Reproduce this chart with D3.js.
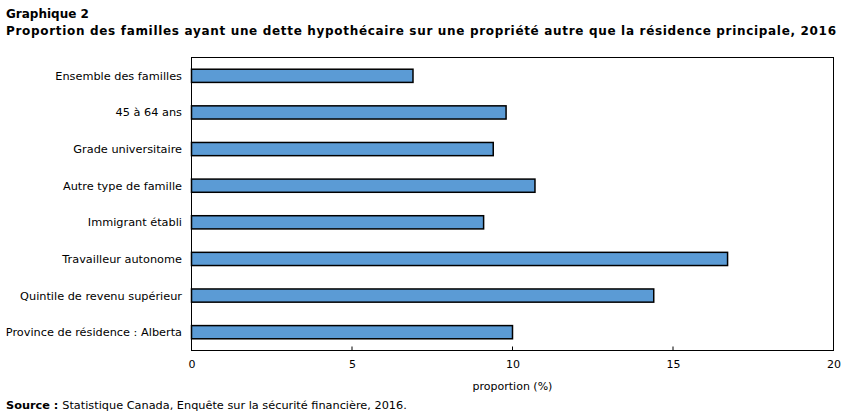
<!DOCTYPE html>
<html>
<head>
<meta charset="utf-8">
<script src="https://cdn.jsdelivr.net/npm/d3@7"></script>
<style>
  body { margin: 0; background: #fff; }
  text { font-family: "DejaVu Sans", Verdana, sans-serif; fill: #000; }
</style>
</head>
<body>
<script>
// chart values
var categories = [
    "Ensemble des familles",
    "45 à 64 ans",
    "Grade universitaire",
    "Autre type de famille",
    "Immigrant établi",
    "Travailleur autonome",
    "Quintile de revenu supérieur",
    "Province de résidence : Alberta"
];
var values = [6.9, 9.8, 9.4, 10.7, 9.1, 16.7, 14.4, 10.0];
var tickValues = [0, 5, 10, 15, 20];

var w = 851, h = 417;
var plotL = 191.5, plotR = 833.5, plotT = 57.5, plotB = 350.5;

var svg = d3.select("body").append("svg")
    .attr("width", w)
    .attr("height", h);

// titles
svg.append("text")
    .attr("x", 6).attr("y", 18)
    .attr("font-size", "12px").attr("font-weight", "bold")
    .text("Graphique  2");
svg.append("text")
    .attr("x", 6).attr("y", 35)
    .attr("font-size", "12px").attr("font-weight", "bold")
    .attr("textLength", 830)
    .text("Proportion  des familles  ayant une  dette  hypothécaire  sur  une  propriété  autre  que  la  résidence  principale,  2016");

var x = d3.scaleLinear().domain([0, 20]).range([plotL, plotR]);
var y = d3.scaleBand().domain(categories).range([plotT, plotB]).paddingInner(0.64).paddingOuter(0.32);

// bars
svg.selectAll("rect.bar")
    .data(values)
    .enter()
    .append("rect")
    .attr("class", "bar")
    .attr("x", x(0))
    .attr("y", function(d, i) { return y(categories[i]); })
    .attr("width", function(d) { return x(d) - x(0); })
    .attr("height", y.bandwidth())
    .attr("fill", "#5b9bd5")
    .attr("stroke", "#000")
    .attr("stroke-width", 1.5);

// frame
svg.append("rect")
    .attr("x", plotL).attr("y", plotT)
    .attr("width", plotR - plotL).attr("height", plotB - plotT)
    .attr("fill", "none").attr("stroke", "#000").attr("stroke-width", 1);

// x ticks (inside) and labels
var xAxis = svg.append("g").attr("transform", "translate(0," + plotB + ")")
    .call(d3.axisBottom(x).tickValues(tickValues).tickSize(0).tickPadding(10));
xAxis.select(".domain").remove();
xAxis.selectAll("text").attr("font-size", "11px").style("font-family", "DejaVu Sans, Verdana, sans-serif");
svg.selectAll("line.tick")
    .data(tickValues.slice(1, -1))
    .enter()
    .append("line")
    .attr("class", "tick")
    .attr("x1", function(d) { return x(d); })
    .attr("x2", function(d) { return x(d); })
    .attr("y1", plotB - 4).attr("y2", plotB)
    .attr("stroke", "#000");

// category labels
svg.selectAll("text.cat")
    .data(categories)
    .enter()
    .append("text")
    .attr("class", "cat")
    .attr("x", 182)
    .attr("y", function(d) { return y(d) + y.bandwidth() / 2; })
    .attr("dy", "0.35em")
    .attr("text-anchor", "end")
    .attr("font-size", "11.3px")
    .text(function(d) { return d; });

// axis title
svg.append("text")
    .attr("x", (plotL + plotR) / 2).attr("y", 390)
    .attr("text-anchor", "middle")
    .attr("font-size", "11px")
    .text("proportion (%)");

// source
var src = svg.append("text").attr("x", 6).attr("y", 409).attr("font-size", "11.3px");
src.append("tspan").attr("font-weight", "bold").text("Source : ");
src.append("tspan").text("Statistique  Canada, Enquête sur la sécurité financière, 2016.");
</script>
</body>
</html>
